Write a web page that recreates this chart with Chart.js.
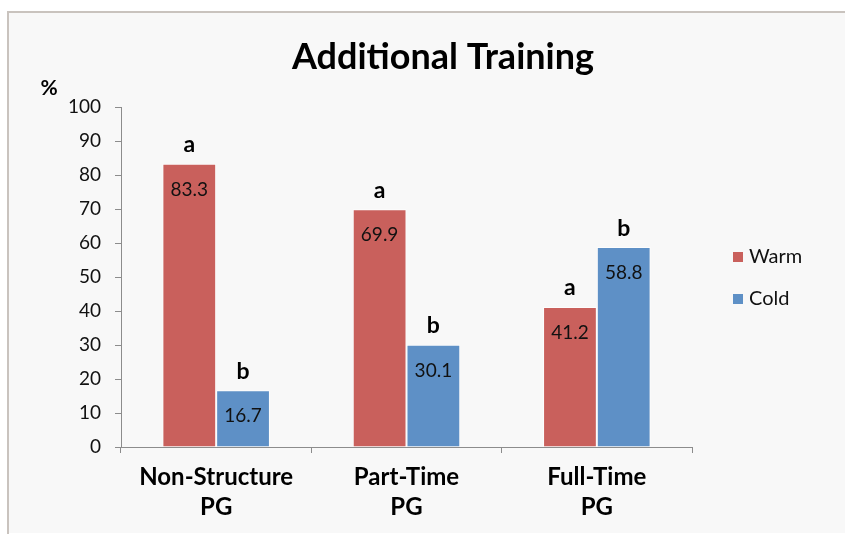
<!DOCTYPE html>
<html>
<head>
<meta charset="utf-8">
<script src="https://cdn.jsdelivr.net/npm/chart.js@4/dist/chart.umd.min.js"></script>
<style>
  html, body { margin: 0; padding: 0; background: #ffffff; }
  #wrap { position: relative; width: 845px; height: 534px; }
</style>
</head>
<body>
<div id="wrap"><canvas id="c" width="845" height="534"></canvas></div>
<script>
// Groups and series
const categories = [['Non-Structure', 'PG'], ['Part-Time', 'PG'], ['Full-Time', 'PG']];
const warmValues = [83.3, 69.9, 41.2];
const coldValues = [16.7, 30.1, 58.8];
const warmLetters = ['a', 'a', 'a'];
const coldLetters = ['b', 'b', 'b'];
const seriesNames = ['Warm', 'Cold'];

const RED = '#c9605c';
const BLUE = '#5e90c6';
const FONT = 'Lato, "Open Sans", sans-serif';

// Panel background with a thin frame on the top and left
const panelPlugin = {
  id: 'panel',
  beforeDraw(chart) {
    const ctx = chart.ctx;
    ctx.save();
    ctx.fillStyle = '#ffffff';
    ctx.fillRect(0, 0, chart.width, chart.height);
    ctx.fillStyle = '#f8f8f8';
    ctx.fillRect(9, 13, chart.width - 9, chart.height - 14);
    ctx.strokeStyle = '#c9c3be';
    ctx.lineWidth = 2;
    ctx.beginPath();
    ctx.moveTo(8, chart.height);
    ctx.lineTo(8, 12);
    ctx.lineTo(chart.width, 12);
    ctx.stroke();
    ctx.restore();
  }
};

// Title, unit, value labels, significance letters and legend
const textPlugin = {
  id: 'texts',
  afterDatasetsDraw(chart) {
    const ctx = chart.ctx;
    ctx.save();
    ctx.textAlign = 'center';
    ctx.textBaseline = 'middle';
    ctx.fillStyle = '#000000';

    ctx.font = 'bold 36px ' + FONT;
    ctx.fillText('Additional Training', 443, 57);

    ctx.font = 'bold 21px ' + FONT;
    ctx.fillText('%', 49, 88);

    const letters = [warmLetters, coldLetters];
    chart.data.datasets.forEach((ds, i) => {
      const meta = chart.getDatasetMeta(i);
      meta.data.forEach((bar, j) => {
        ctx.fillStyle = '#111111';
        ctx.font = '19px ' + FONT;
        ctx.fillText(ds.data[j].toFixed(1), bar.x, bar.y + 26);
        ctx.fillStyle = '#000000';
        ctx.font = 'bold 23px ' + FONT;
        ctx.fillText(letters[i][j], bar.x, bar.y - 19);
      });
    });

    // Legend
    const legendY = [257, 299];
    chart.data.datasets.forEach((ds, i) => {
      ctx.fillStyle = ds.backgroundColor;
      ctx.fillRect(733, legendY[i] - 5, 10, 10);
      ctx.fillStyle = '#111111';
      ctx.font = '20px ' + FONT;
      ctx.textAlign = 'left';
      ctx.fillText(ds.label, 749, legendY[i]);
    });
    ctx.restore();
  }
};

new Chart(document.getElementById('c'), {
  type: 'bar',
  data: {
    labels: categories,
    datasets: [
      { label: seriesNames[0], data: warmValues, backgroundColor: RED,
        borderColor: 'rgba(255,255,255,0.75)', borderWidth: 1 },
      { label: seriesNames[1], data: coldValues, backgroundColor: BLUE,
        borderColor: 'rgba(255,255,255,0.75)', borderWidth: 1 }
    ]
  },
  options: {
    responsive: false,
    animation: false,
    devicePixelRatio: 1,
    layout: { padding: { left: 0, top: 107, right: 153, bottom: 0 } },
    plugins: { legend: { display: false }, title: { display: false }, tooltip: { enabled: false } },
    datasets: { bar: { categoryPercentage: 0.565, barPercentage: 1 } },
    scales: {
      x: {
        grid: { offset: true, drawOnChartArea: false, drawTicks: true, tickLength: 6, color: '#8c8c8c' },
        border: { display: true, color: '#8c8c8c', width: 1 },
        ticks: { color: '#000000', font: { family: FONT, size: 24, weight: 'bold', lineHeight: 1.25 }, padding: 9, maxRotation: 0 },
        afterFit(scale) { scale.height = 87; }
      },
      y: {
        min: 0, max: 100,
        grid: { drawOnChartArea: false, drawTicks: true, tickLength: 6, color: '#8c8c8c' },
        border: { display: true, color: '#8c8c8c', width: 1 },
        ticks: { stepSize: 10, color: '#111111', font: { family: FONT, size: 19 }, padding: 14 },
        afterFit(scale) { scale.width = 121; }
      }
    }
  },
  plugins: [panelPlugin, textPlugin]
});
</script>
</body>
</html>
